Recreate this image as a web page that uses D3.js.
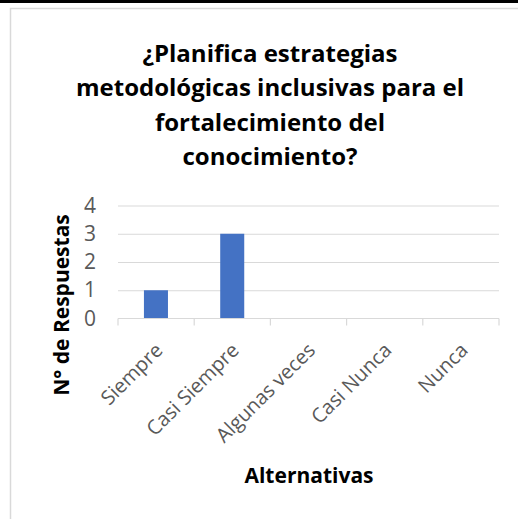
<!DOCTYPE html>
<html>
<head>
<meta charset="utf-8">
<script src="https://cdn.jsdelivr.net/npm/d3@7"></script>
<style>
  body { margin: 0; background: #fff; }
  svg { display: block; font-family: "Open Sans", sans-serif; }
</style>
</head>
<body>
<script>
// data
var categories = ["Siempre", "Casi Siempre", "Algunas veces", "Casi Nunca", "Nunca"];
var values     = [1, 3, 0, 0, 0];
var yTicks     = [0, 1, 2, 3, 4];
var titleLines = ["¿Planifica estrategias", "metodológicas inclusivas para el", "fortalecimiento del", "conocimiento?"];

var width  = 518,
    height = 519;

var svg = d3.select("body").append("svg")
    .attr("width", width)
    .attr("height", height);

// frame bits: black rule on top, light gray chart border
svg.append("rect")
    .attr("x", 0).attr("y", 0)
    .attr("width", width).attr("height", 3)
    .attr("fill", "#000");

svg.append("path")
    .attr("d", "M10.5," + height + "V8.5H" + width)
    .attr("fill", "none")
    .attr("stroke", "#d9d9d9")
    .attr("stroke-width", 1.5);

// title
svg.append("g").selectAll("text")
  .data(titleLines)
  .enter().append("text")
    .attr("x", 270)
    .attr("y", function(d, i) { return 62 + i * 34.4; })
    .attr("text-anchor", "middle")
    .attr("font-size", 24)
    .attr("font-weight", "bold")
    .attr("fill", "#000")
    .text(function(d) { return d; });

var x = d3.scaleBand()
    .domain(categories)
    .range([118, 499])
    .paddingInner(0.685)
    .paddingOuter(0.34);

var y = d3.scaleLinear()
    .domain([0, 4])
    .range([318.5, 205.5]);

// gridlines
svg.append("g")
    .attr("transform", "translate(118,0)")
    .call(d3.axisLeft(y).tickValues(yTicks.slice(1)).tickSize(-(499 - 118)).tickFormat(""))
    .call(function(g) {
      g.select(".domain").remove();
      g.selectAll("line").attr("stroke", "#d9d9d9").attr("stroke-width", 1.2);
    });

// y tick labels
svg.append("g")
    .attr("transform", "translate(118,0)")
    .call(d3.axisLeft(y).tickValues(yTicks).tickSize(0).tickPadding(22).tickFormat(d3.format("d")))
    .call(function(g) {
      g.select(".domain").remove();
      g.selectAll("text")
        .attr("font-family", "Open Sans, sans-serif")
        .attr("font-size", 21)
        .attr("fill", "#595959");
    });

// bars
svg.append("g").selectAll("rect")
  .data(values)
  .enter().append("rect")
    .attr("x", function(d, i) { return x(categories[i]); })
    .attr("y", function(d) { return y(d); })
    .attr("width", x.bandwidth())
    .attr("height", function(d) { return y(0) - y(d); })
    .attr("fill", "#4472c4");

// category axis with ticks between categories
var boundaries = d3.range(categories.length + 1).map(function(i) { return 118 + i * (499 - 118) / categories.length; });

svg.append("line")
    .attr("x1", 118).attr("x2", 499)
    .attr("y1", y(0)).attr("y2", y(0))
    .attr("stroke", "#d9d9d9").attr("stroke-width", 1.2);

svg.append("g").selectAll("line")
  .data(boundaries)
  .enter().append("line")
    .attr("x1", function(d) { return d; })
    .attr("x2", function(d) { return d; })
    .attr("y1", y(0))
    .attr("y2", y(0) + 7)
    .attr("stroke", "#d9d9d9").attr("stroke-width", 1.2);

svg.append("g").selectAll("text")
  .data(categories)
  .enter().append("text")
    .attr("transform", function(d) {
      return "translate(" + (x(d) + x.bandwidth() / 2 + 8) + "," + (y(0) + 33) + ") rotate(-45)";
    })
    .attr("text-anchor", "end")
    .attr("font-size", 20)
    .attr("fill", "#595959")
    .text(function(d) { return d; });

// axis titles
svg.append("text")
    .attr("transform", "translate(69,305) rotate(-90)")
    .attr("text-anchor", "middle")
    .attr("font-size", 21)
    .attr("font-weight", "bold")
    .attr("fill", "#000")
    .text("N° de Respuestas");

svg.append("text")
    .attr("x", 309)
    .attr("y", 483)
    .attr("text-anchor", "middle")
    .attr("font-size", 21)
    .attr("font-weight", "bold")
    .attr("fill", "#000")
    .text("Alternativas");
</script>
</body>
</html>
